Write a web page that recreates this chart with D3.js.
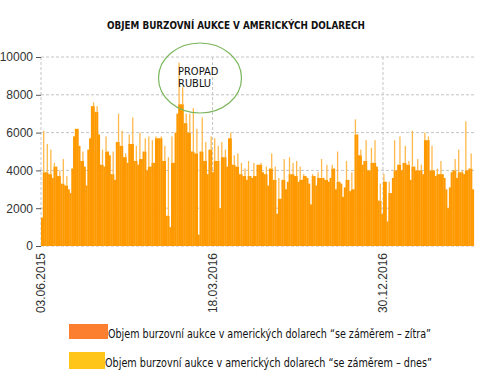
<!DOCTYPE html>
<html>
<head>
<meta charset="utf-8">
<script src="https://d3js.org/d3.v7.min.js"></script>
<style>
body { margin: 0; background: #fff; }
svg { display: block; }
.axis text { font-family: "Liberation Sans", Arial, sans-serif; font-size: 12px; fill: #333; }
.axis line { stroke: #555; }
.grid line { stroke: #c4c4c4; stroke-dasharray: 3,2; }
</style>
</head>
<body>
<svg width="483" height="374"></svg>
<script>

/* daily auction volume, one reading every 3 days from 03.06.2015 */
var startDate = new Date(2015, 5, 3);
var stepDays = 3;
var volumes = [
    1500, 6100, 3900, 5400, 3800, 5100, 3600, 4400, 4200, 3700,
    4000, 3300, 4600, 3200, 3700, 3000, 2800, 4100, 5800, 6200,
    6200, 5300, 4500, 5000, 4200, 3200, 5100, 5700, 7400, 7600,
    7100, 7400, 5900, 4300, 5100, 4200, 5800, 5000, 4800, 3800,
    5000, 3500, 5500, 7000, 5300, 6100, 4700, 4900, 4400, 5900,
    5400, 6800, 4500, 5300, 4300, 6000, 4600, 5000, 5700, 4000,
    5800,
    4200, 5600, 4400, 5800, 5700, 5700, 5800, 4500, 5300, 1600,
    4700, 1000, 5800, 4400, 6000, 7000, 9700, 7500, 8400, 6500,
    7000, 6000, 7000, 5000, 7300, 4900, 6200, 600, 5000, 6800,
    4500, 5500, 3800, 5100, 5800, 3900, 5700, 4500, 5300, 2000,
    5500, 4700, 5100, 4200, 5700, 6000, 4300, 4800, 4200, 4900,
    3800, 4400, 3700, 4100, 3500, 4500, 3700, 3600, 4400, 3700,
    4300,
    4300, 4400, 3900, 3800, 4200, 3200, 4100, 4900, 3500, 4200,
    1700, 3600, 2500, 3500, 4600, 3000, 3400, 4700, 3800, 4400,
    3700, 4500, 3400, 4200, 3500, 3800, 3700, 3600, 3300, 2200,
    3800, 3700, 3200, 3900, 3600, 4600, 3600, 3500, 4300, 3400,
    3600, 4300, 4100, 3000, 5000, 3400, 3300, 2600, 3100, 4500,
    3500, 2900, 3900, 3000, 6700, 5900, 4800, 5100, 4300, 4500,
    5600, 4000, 4000, 5200, 4400, 5600, 4200, 2400, 3300, 1700,
    3800, 3400, 1300, 3400, 2800, 3600, 5600, 4000, 4300, 5800,
    4000, 4400, 5300, 4300, 4500, 3500, 6100, 4200, 4000, 4600,
    4000, 4300, 3800, 6000, 5600, 5800, 4000, 5300, 4000, 3700,
    4100, 3800, 4500, 3800, 3600, 3000, 2000, 3100, 3900, 4000,
    4600, 3600, 5100, 3900, 4000, 3800, 6600, 4000, 4100, 4900,
    3000
];

var yTicks = [0, 2000, 4000, 6000, 8000, 10000];
var tickDates = [new Date(2015, 5, 3), new Date(2016, 2, 18), new Date(2016, 11, 30)];
var tickLabels = ["03.06.2015", "18.03.2016", "30.12.2016"];
var legendLabels = [
    "Objem burzovní aukce v amerických dolarech \u201cse záměrem \u2013 zítra\u201d",
    "Objem burzovní aukce v amerických dolarech \u201cse záměrem \u2013 dnes\u201d"
];
var legendColors = ["#fb7f2e", "#ffc518"];

var svg = d3.select("svg");

var x = d3.scaleTime()
    .domain([new Date(2015, 5, 3), new Date(2017, 5, 2)])
    .range([41, 474.4]);
var y = d3.scaleLinear()
    .domain([0, 10000])
    .range([246, 57]);

/* title */
svg.append("text")
    .attr("x", 236)
    .attr("y", 29)
    .attr("text-anchor", "middle")
    .attr("textLength", 258)
    .attr("lengthAdjust", "spacingAndGlyphs")
    .style("font-family", "'Liberation Sans Narrow', 'DejaVu Sans Condensed', Arial, sans-serif")
    .style("font-weight", "bold")
    .style("font-size", "11px")
    .style("fill", "#111")
    .text("OBJEM BURZOVNÍ AUKCE V AMERICKÝCH DOLARECH");

/* grid */
var grid = svg.append("g").attr("class", "grid");
grid.selectAll("line.h")
    .data(yTicks)
    .enter().append("line")
    .attr("x1", 41).attr("x2", 474)
    .attr("y1", function(d){ return y(d); })
    .attr("y2", function(d){ return y(d); });
grid.selectAll("line.v")
    .data(tickDates)
    .enter().append("line")
    .attr("x1", function(d){ return x(d); })
    .attr("x2", function(d){ return x(d); })
    .attr("y1", y(10000)).attr("y2", y(0));

/* bars: solid part up to the neighbours, lone spikes drawn lighter */
var bw = x(d3.timeDay.offset(startDate, stepDays)) - x(startDate);
var bars = svg.append("g");
for(var i = 0; i < volumes.length; ++i)
{
    var d = d3.timeDay.offset(startDate, i*stepDays);
    var v = volumes[i];
    var prev = i > 0 ? volumes[i-1] : v;
    var next = i < volumes.length-1 ? volumes[i+1] : v;
    var body = Math.min(v, Math.max(prev, next));
    bars.append("rect")
        .attr("x", x(d))
        .attr("width", bw + 0.3)
        .attr("y", y(body))
        .attr("height", y(0) - y(body))
        .attr("fill", "#ff9900");
    if(v > body)
    {
        bars.append("rect")
            .attr("x", x(d) + 0.3)
            .attr("width", bw - 0.5)
            .attr("y", y(v))
            .attr("height", y(body) - y(v))
            .attr("fill", "#ffb84a");
    }
}

/* axes */
var yAxis = d3.axisLeft(y)
    .tickValues(yTicks)
    .tickFormat(d3.format("d"))
    .tickSize(5)
    .tickPadding(3);
svg.append("g")
    .attr("class", "axis")
    .attr("transform", "translate(41,0)")
    .call(yAxis)
    .select(".domain").remove();

svg.append("g")
    .attr("class", "axis")
    .selectAll("text")
    .data(tickDates)
    .enter().append("text")
    .attr("transform", function(d){ return "translate(" + x(d) + ",253) rotate(-90)"; })
    .attr("text-anchor", "end")
    .attr("dy", "0.35em")
    .text(function(d, i){ return tickLabels[i]; });

/* annotation */
svg.append("ellipse")
    .attr("cx", 200)
    .attr("cy", 78)
    .attr("rx", 41.5)
    .attr("ry", 35)
    .attr("fill", "none")
    .attr("stroke", "#7ab55c")
    .attr("stroke-width", 1.2);
svg.append("text")
    .attr("x", 178)
    .attr("y", 75)
    .style("font-family", "'Liberation Sans Narrow', 'DejaVu Sans Condensed', Arial, sans-serif")
    .style("font-size", "11px")
    .style("fill", "#111")
    .text("PROPAD");
svg.append("text")
    .attr("x", 178)
    .attr("y", 87)
    .style("font-family", "'Liberation Sans Narrow', 'DejaVu Sans Condensed', Arial, sans-serif")
    .style("font-size", "11px")
    .style("fill", "#111")
    .text("RUBLU");

/* legend */
var leg = svg.append("g");
leg.selectAll("rect")
    .data(legendColors)
    .enter().append("rect")
    .attr("x", 69)
    .attr("y", function(d, i){ return 324 + i*28; })
    .attr("width", function(d, i){ return i == 0 ? 39 : 36; })
    .attr("height", function(d, i){ return i == 0 ? 15 : 17; })
    .attr("fill", function(d){ return d; });
leg.selectAll("text")
    .data(legendLabels)
    .enter().append("text")
    .attr("x", function(d, i){ return i == 0 ? 108 : 105; })
    .attr("y", function(d, i){ return 338 + i*29; })
    .attr("textLength", function(d, i){ return i == 0 ? 323 : 327; })
    .attr("lengthAdjust", "spacingAndGlyphs")
    .style("font-family", "'Liberation Sans Narrow', 'DejaVu Sans Condensed', Arial, sans-serif")
    .style("font-size", "11.5px")
    .style("fill", "#111")
    .text(function(d){ return d; });

</script>
</body>
</html>
